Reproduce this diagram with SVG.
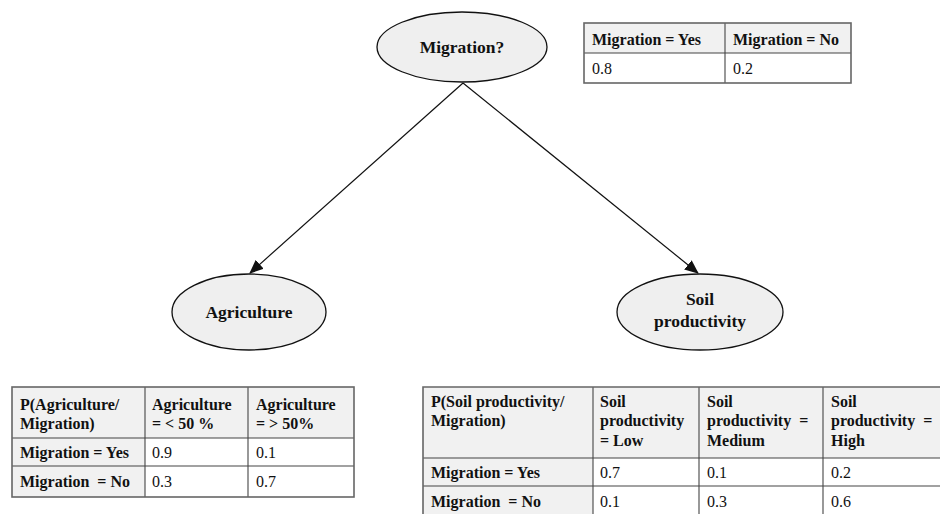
<svg xmlns="http://www.w3.org/2000/svg" width="940" height="514" viewBox="0 0 940 514">
  <style>
    .node { fill: #efefef; stroke: #111; stroke-width: 1.3; }
    .nlabel { font-family: 'Liberation Serif', 'Tinos', 'DejaVu Serif', serif; font-weight: bold; font-size: 17.5px; fill: #111; text-anchor: middle; }
    .edge { stroke: #111; stroke-width: 1.2; fill: none; }
    .hcell { fill: #f1f1f1; }
    .grid { stroke: #444; stroke-width: 1.1; fill: none; }
    .outer { stroke: #666; stroke-width: 1.6; fill: none; }
    .th { font-family: 'Liberation Serif', 'Tinos', 'DejaVu Serif', serif; font-weight: bold; font-size: 16px; fill: #111; }
    .td { font-family: 'Liberation Serif', 'Tinos', 'DejaVu Serif', serif; font-size: 16px; fill: #111; }
  </style>
  <defs>
    <marker id="arrow" markerWidth="14" markerHeight="12" refX="13" refY="6" orient="auto" markerUnits="userSpaceOnUse">
      <path d="M0,0 L14,6 L0,12 z" fill="#111"/>
    </marker>
  </defs>
  <rect width="940" height="514" fill="#ffffff"/>

  <!-- connectors -->
  <g id="connectors">
    <line class="edge" x1="463" y1="83" x2="250" y2="273" marker-end="url(#arrow)"/>
    <line class="edge" x1="463" y1="83" x2="698" y2="273" marker-end="url(#arrow)"/>
  </g>

  <!-- nodes -->
  <g id="node-migration">
    <ellipse class="node" cx="462" cy="47" rx="85" ry="35"/>
    <text class="nlabel" x="462" y="53">Migration?</text>
  </g>
  <g id="node-agriculture">
    <ellipse class="node" cx="249" cy="312" rx="77" ry="38"/>
    <text class="nlabel" x="249" y="318">Agriculture</text>
  </g>
  <g id="node-soil">
    <ellipse class="node" cx="700" cy="312" rx="83" ry="38"/>
    <text class="nlabel" x="700" y="305">Soil</text>
    <text class="nlabel" x="700" y="327">productivity</text>
  </g>

  <!-- prior table for Migration -->
  <g id="table-migration">
    <rect class="hcell" x="584" y="23" width="267" height="30"/>
    <rect x="584" y="53" width="267" height="30" fill="#ffffff"/>
    <line class="grid" x1="584" y1="53" x2="851" y2="53"/>
    <line class="grid" x1="725" y1="23" x2="725" y2="83"/>
    <rect class="outer" x="584" y="23" width="267" height="60"/>
    <text class="th" x="592" y="45">Migration = Yes</text>
    <text class="th" x="733" y="45">Migration = No</text>
    <text class="td" x="592" y="74">0.8</text>
    <text class="td" x="733" y="74">0.2</text>
  </g>

  <!-- conditional table for Agriculture -->
  <g id="table-agriculture">
    <rect class="hcell" x="12" y="387" width="342" height="51"/>
    <rect class="hcell" x="12" y="438" width="133" height="59"/>
    <rect x="145" y="438" width="209" height="59" fill="#ffffff"/>
    <line class="grid" x1="12" y1="438" x2="354" y2="438"/>
    <line class="grid" x1="12" y1="466" x2="354" y2="466"/>
    <line class="grid" x1="145" y1="387" x2="145" y2="497"/>
    <line class="grid" x1="248" y1="387" x2="248" y2="497"/>
    <rect class="outer" x="12" y="387" width="342" height="110"/>
    <text class="th" x="20" y="410">P(Agriculture/</text>
    <text class="th" x="20" y="429">Migration)</text>
    <text class="th" x="152" y="410">Agriculture</text>
    <text class="th" x="152" y="429">= &lt; 50 %</text>
    <text class="th" x="256" y="410">Agriculture</text>
    <text class="th" x="256" y="429">= &gt; 50%</text>
    <text class="th" x="20" y="458">Migration = Yes</text>
    <text class="td" x="152" y="458">0.9</text>
    <text class="td" x="256" y="458">0.1</text>
    <text class="th" x="20" y="487" xml:space="preserve">Migration  = No</text>
    <text class="td" x="152" y="487">0.3</text>
    <text class="td" x="256" y="487">0.7</text>
  </g>

  <!-- conditional table for Soil productivity -->
  <g id="table-soil">
    <rect class="hcell" x="423" y="387" width="530" height="71"/>
    <rect class="hcell" x="423" y="458" width="170" height="60"/>
    <rect x="593" y="458" width="360" height="60" fill="#ffffff"/>
    <line class="grid" x1="423" y1="458" x2="940" y2="458"/>
    <line class="grid" x1="423" y1="486" x2="940" y2="486"/>
    <line class="grid" x1="593" y1="387" x2="593" y2="514"/>
    <line class="grid" x1="699" y1="387" x2="699" y2="514"/>
    <line class="grid" x1="823" y1="387" x2="823" y2="514"/>
    <path class="outer" d="M940,387 L423,387 L423,514"/>
    <text class="th" x="431" y="407">P(Soil productivity/</text>
    <text class="th" x="431" y="426">Migration)</text>
    <text class="th" x="600" y="407">Soil</text>
    <text class="th" x="600" y="426">productivity</text>
    <text class="th" x="600" y="446">= Low</text>
    <text class="th" x="707" y="407">Soil</text>
    <text class="th" x="707" y="426" xml:space="preserve">productivity  =</text>
    <text class="th" x="707" y="446">Medium</text>
    <text class="th" x="831" y="407">Soil</text>
    <text class="th" x="831" y="426" xml:space="preserve">productivity  =</text>
    <text class="th" x="831" y="446">High</text>
    <text class="th" x="431" y="478">Migration = Yes</text>
    <text class="td" x="600" y="478">0.7</text>
    <text class="td" x="707" y="478">0.1</text>
    <text class="td" x="831" y="478">0.2</text>
    <text class="th" x="431" y="507" xml:space="preserve">Migration  = No</text>
    <text class="td" x="600" y="507">0.1</text>
    <text class="td" x="707" y="507">0.3</text>
    <text class="td" x="831" y="507">0.6</text>
  </g>
</svg>
